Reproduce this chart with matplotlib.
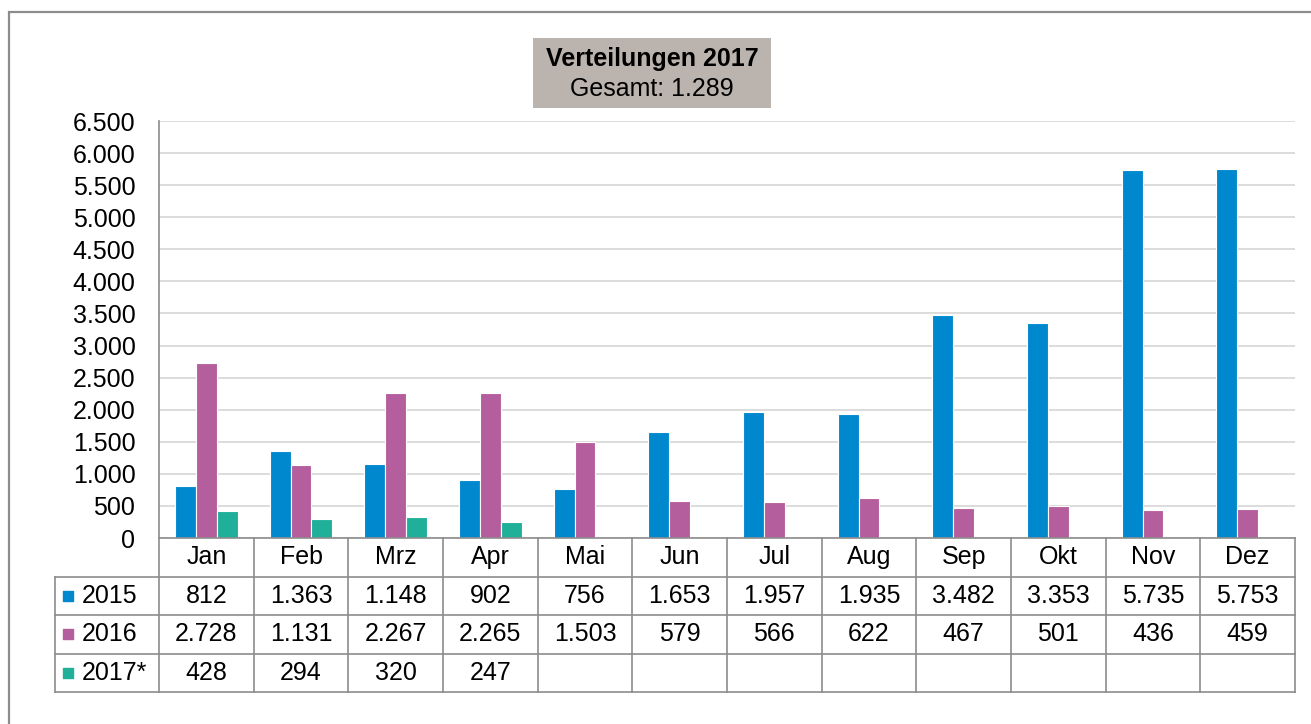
import matplotlib
matplotlib.use("Agg")
import matplotlib.pyplot as plt
from matplotlib.patches import Rectangle
from matplotlib.ticker import FuncFormatter
import numpy as np

plt.rcParams['font.family'] = ['Liberation Sans', 'DejaVu Sans']

months = ["Jan", "Feb", "Mrz", "Apr", "Mai", "Jun", "Jul", "Aug", "Sep", "Okt", "Nov", "Dez"]
series_names = ["2015", "2016", "2017*"]
v2015 = [812, 1363, 1148, 902, 756, 1653, 1957, 1935, 3482, 3353, 5735, 5753]
v2016 = [2728, 1131, 2267, 2265, 1503, 579, 566, 622, 467, 501, 436, 459]
v2017 = [428, 294, 320, 247]
colors = ["#0088CE", "#B55E9E", "#20B09A"]
title = "Verteilungen 2017"
subtitle = "Gesamt: 1.289"
yticks = list(range(0, 6501, 500))

def de(v):
    return f"{int(v):,}".replace(",", ".")

W, H = 1311, 724
fig = plt.figure(figsize=(W / 100, H / 100), dpi=100)

def fx(px):
    return px / W

def fy(py):
    return 1 - py / H

FS = 18

# outer border
fig.add_artist(Rectangle((fx(9), fy(760)), fx(1320), 748 / H,
                         transform=fig.transFigure, fill=False,
                         edgecolor="#8C8C8C", linewidth=1.6))

# main axes
ax_l, ax_r, ax_t, ax_b = 159, 1295, 121, 538
ax = fig.add_axes([fx(ax_l), fy(ax_b), fx(ax_r - ax_l), (ax_b - ax_t) / H])
x = np.arange(len(months))
bw = 0.22
data = [v2015, v2016, v2017]
for i, (vals, c) in enumerate(zip(data, colors)):
    xs = x[:len(vals)] + (i - 1) * bw
    ax.bar(xs, vals, width=bw, color=c, edgecolor="white", linewidth=0.8, zorder=3)
ax.set_xlim(-0.5, len(months) - 0.5)
ax.set_ylim(0, 6500)
ax.set_yticks(yticks)
ax.yaxis.set_major_formatter(FuncFormatter(lambda v, p: de(v)))
ax.tick_params(axis="y", length=0, pad=17, labelsize=FS)
ax.tick_params(axis="x", length=0, labelbottom=False)
ax.grid(axis="y", color="#D9D9D9", linewidth=1.3, zorder=0)
for s in ["top", "right", "bottom"]:
    ax.spines[s].set_visible(False)
ax.spines["left"].set_color("#8C8C8C")
ax.spines["left"].set_linewidth(1.2)

# data table
tb_l, tb_t, tb_b = 55, 538, 692
cw = (ax_r - ax_l) / len(months)
leg_w = (ax_l - tb_l) / cw
ta = fig.add_axes([fx(tb_l), fy(tb_b), fx(ax_r - tb_l), (tb_b - tb_t) / H])
ta.set_xlim(-0.5 - leg_w, len(months) - 0.5)
ta.set_ylim(4, 0)
ta.axis("off")
lc = "#8C8C8C"
lw = 1.2
ta.plot([-0.5, len(months) - 0.5], [0, 0], color=lc, lw=lw, clip_on=False)
for r in [1, 2, 3, 4]:
    ta.plot([-0.5 - leg_w, len(months) - 0.5], [r, r], color=lc, lw=lw, clip_on=False)
for k in range(len(months) + 1):
    ta.plot([k - 0.5, k - 0.5], [0, 4], color=lc, lw=lw, clip_on=False)
ta.plot([-0.5 - leg_w] * 2, [1, 4], color=lc, lw=lw, clip_on=False)

for k, m in enumerate(months):
    ta.text(k, 0.5, m, ha="center", va="center", fontsize=FS)
for r, (vals, name, c) in enumerate(zip(data, series_names, colors)):
    yy = r + 1.5
    for k, v in enumerate(vals):
        ta.text(k, yy, de(v), ha="center", va="center", fontsize=FS)
    ta.scatter([-0.5 - leg_w + 0.14], [yy], marker="s", s=55, color=c, clip_on=False)
    ta.text(-0.5 - leg_w + 0.28, yy, name, ha="left", va="center", fontsize=FS)

# title box
bx_l, bx_r, bx_t, bx_b = 533, 771, 38, 108
fig.add_artist(Rectangle((fx(bx_l), fy(bx_b)), fx(bx_r - bx_l), (bx_b - bx_t) / H,
                         transform=fig.transFigure, facecolor="#BBB3AD", edgecolor="none"))
cx = fx((bx_l + bx_r) / 2)
fig.text(cx, fy(59), title, ha="center", va="center", fontsize=FS, fontweight="bold")
fig.text(cx, fy(89), subtitle, ha="center", va="center", fontsize=FS)

fig.savefig("out.png", dpi=100)
